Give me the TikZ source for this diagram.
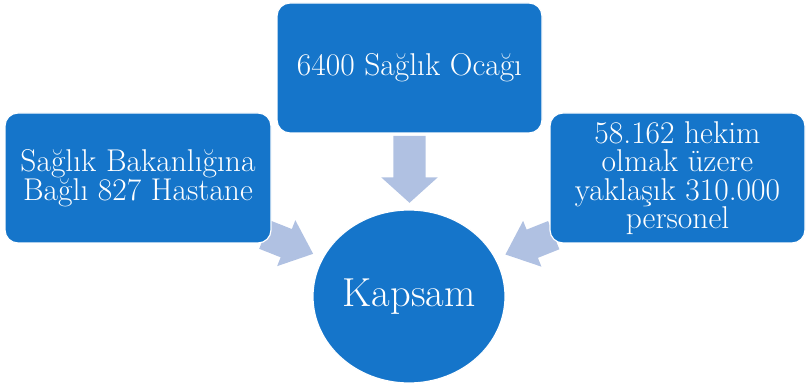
\documentclass[tikz,border=0pt]{standalone}
\usepackage{tikz}
\usetikzlibrary{shapes.geometric,shapes.arrows,positioning,calc,backgrounds}
\definecolor{boxblue}{RGB}{21,117,202}
\definecolor{arrowblue}{RGB}{176,193,226}

\begin{document}
\begin{tikzpicture}[x=1pt,y=1pt,
  box/.style={fill=boxblue,draw=white,line width=1.2pt,rounded corners=13pt,text=white,align=center,minimum height=130pt,inner sep=0pt,font=\fontsize{31.5}{28.5}\selectfont},
  hub/.style={ellipse,fill=boxblue,draw=white,line width=1.2pt,text=white,minimum width=192pt,minimum height=173pt,inner sep=0pt,font=\fontsize{40.5}{44}\selectfont},
  blockarrow/.style={single arrow,fill=arrowblue,anchor=tail}]
  \useasboundingbox (0,0) rectangle (806,386);
  \node[hub] (K) at (409,89.5) {Kapsam};
  \node[box,minimum width=265pt] (O) at (409.5,318) {6400 Sağlık Ocağı};
  \node[box,minimum width=266pt] (H) at (138,208) {Sağlık Bakanlığına\\Bağlı 827 Hastane};
  \node[box,minimum width=255pt] (P) at (677.5,208) {58.162 hekim\\olmak üzere\\yaklaşık 310.000\\personel};
  \begin{scope}[on background layer]
    \node[blockarrow,inner sep=16pt,minimum height=67pt,single arrow head extend=12pt,single arrow tip angle=96,rotate=-90] (A1) at ($(O.south)+(0,-2)$) {};
    \node[blockarrow,inner sep=15pt,minimum height=52pt,single arrow head extend=9.5pt,single arrow tip angle=81,rotate=-21.6] (A2) at ($(H.south east)+(-7,9)$) {};
    \node[blockarrow,inner sep=15pt,minimum height=52pt,single arrow head extend=9.5pt,single arrow tip angle=81,rotate=-158.2] (A3) at ($(P.south west)+(4.5,8.5)$) {};
  \end{scope}
\end{tikzpicture}
\end{document}
